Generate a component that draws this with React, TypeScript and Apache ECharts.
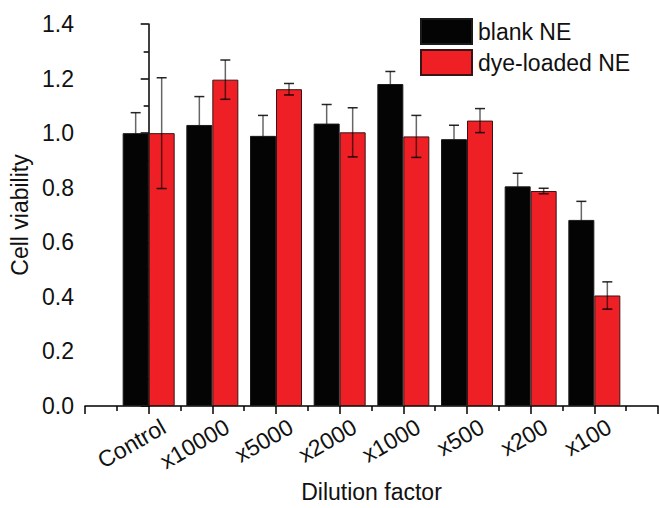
import React, { useEffect, useRef } from "react";
import * as echarts from "echarts";

const categories = ["Control", "x10000", "x5000", "x2000", "x1000", "x500", "x200", "x100"];
const blankNE = [1.0, 1.03, 0.99, 1.035, 1.18, 0.978, 0.805, 0.682];
const blankErr = [0.075, 0.104, 0.075, 0.07, 0.046, 0.051, 0.048, 0.068];
const dyeNE = [1.0, 1.196, 1.161, 1.003, 0.988, 1.046, 0.788, 0.405];
const dyeErr = [0.203, 0.072, 0.021, 0.09, 0.077, 0.044, 0.01, 0.05];
const seriesNames = ["blank NE", "dye-loaded NE"];

const FONT = "'Liberation Sans', Arial, sans-serif";
const FS = 23;
const BAR_W = 26;
const LABEL_SHIFT = 0.235;

function errorSeries(values: number[], errs: number[], offset: number, z: number) {
  return {
    type: "custom",
    xAxisIndex: 0,
    yAxisIndex: 0,
    z,
    silent: true,
    encode: { x: 0, y: 1 },
    data: values.map((v, i) => [i, v, errs[i]]),
    renderItem: (params: any, api: any) => {
      const x = api.value(0);
      const y = api.value(1);
      const e = api.value(2);
      const top = api.coord([x, y + e]);
      const bot = api.coord([x, y - e]);
      const cx = top[0] + offset;
      const cap = 5;
      return {
        type: "group",
        children: [
          {
            type: "line",
            shape: { x1: cx, y1: top[1], x2: cx, y2: bot[1] },
            style: { stroke: "rgba(0,0,0,0.6)", lineWidth: 1.5 },
          },
          {
            type: "line",
            shape: { x1: cx - cap, y1: top[1], x2: cx + cap, y2: top[1] },
            style: { stroke: "rgba(0,0,0,0.85)", lineWidth: 1.5 },
          },
          {
            type: "line",
            shape: { x1: cx - cap, y1: bot[1], x2: cx + cap, y2: bot[1] },
            style: { stroke: "rgba(0,0,0,0.85)", lineWidth: 1.5 },
          },
        ],
      };
    },
  };
}

export default function App() {
  const ref = useRef<HTMLDivElement>(null);
  useEffect(() => {
    if (!ref.current) return;
    const chart = echarts.init(ref.current, null, { renderer: "svg" });
    const option: any = {
      animation: false,
      backgroundColor: "#ffffff",
      textStyle: { fontFamily: FONT },
      grid: { left: 85, right: 1, top: 24, bottom: 98, containLabel: false },
      legend: {
        data: seriesNames,
        orient: "vertical",
        left: 420,
        top: 18,
        itemWidth: 51,
        itemHeight: 25,
        itemGap: 4,
        padding: 0,
        icon: "rect",
        selectedMode: false,
        textStyle: { fontSize: FS, color: "#111", fontFamily: FONT, padding: [0, 0, 0, 1] },
      },
      xAxis: [
        {
          type: "value",
          position: "bottom",
          min: -1,
          max: 8,
          interval: 1,
          name: "Dilution factor",
          nameLocation: "middle",
          nameGap: 74,
          nameTextStyle: { fontSize: FS, color: "#111", fontFamily: FONT },
          axisLine: { show: true, lineStyle: { color: "#000", width: 1.5 } },
          axisTick: { show: true, inside: false, length: 8, lineStyle: { color: "#000", width: 1.5 } },
          minorTick: { show: true, splitNumber: 2, length: 5, lineStyle: { color: "#000", width: 1.5 } },
          axisLabel: { show: false },
          splitLine: { show: false },
          minorSplitLine: { show: false },
        },
        {
          type: "value",
          position: "bottom",
          min: -1 - LABEL_SHIFT,
          max: 8 - LABEL_SHIFT,
          splitNumber: 9,
          axisLine: { show: false },
          axisTick: { show: false },
          splitLine: { show: false },
          axisLabel: {
            show: true,
            rotate: 30,
            margin: 19,
            fontSize: FS,
            color: "#111",
            fontFamily: FONT,
            showMinLabel: false,
            showMaxLabel: false,
            formatter: (v: number) => {
              const r = Math.round(v);
              if (Math.abs(v - r) > 1e-6) return "";
              return categories[r] ?? "";
            },
          },
        },
      ],
      yAxis: {
        type: "value",
        min: 0,
        max: 1.4,
        interval: 0.2,
        name: "Cell viability",
        nameLocation: "middle",
        nameGap: 52,
        nameTextStyle: { fontSize: FS, color: "#111", fontFamily: FONT },
        axisLine: { show: true, lineStyle: { color: "#000", width: 1.5 } },
        axisTick: { show: true, inside: false, length: 8, lineStyle: { color: "#000", width: 1.5 } },
        minorTick: { show: true, splitNumber: 2, length: 5, lineStyle: { color: "#000", width: 1.5 } },
        axisLabel: {
          fontSize: FS,
          color: "#111",
          margin: 11,
          fontFamily: FONT,
          formatter: (v: number) => v.toFixed(1),
        },
        splitLine: { show: false },
      },
      series: [
        {
          name: seriesNames[0],
          type: "bar",
          xAxisIndex: 0,
          z: 2,
          barWidth: BAR_W,
          barGap: "0%",
          data: blankNE.map((v, i) => [i, v]),
          itemStyle: { color: "#040404", borderColor: "#1a1a1a", borderWidth: 1 },
        },
        {
          name: seriesNames[1],
          type: "bar",
          xAxisIndex: 0,
          z: 2,
          barWidth: BAR_W,
          barGap: "0%",
          data: dyeNE.map((v, i) => [i, v]),
          itemStyle: { color: "#ee1f25", borderColor: "#3a1414", borderWidth: 1 },
        },
        errorSeries(blankNE, blankErr, -BAR_W / 2, 1),
        errorSeries(dyeNE, dyeErr, BAR_W / 2, 5),
      ],
    };
    chart.setOption(option);
    return () => chart.dispose();
  }, []);
  return (
    <div
      ref={ref}
      style={{ position: "absolute", left: 0, top: 0, width: 659, height: 508, background: "#fff" }}
    />
  );
}
